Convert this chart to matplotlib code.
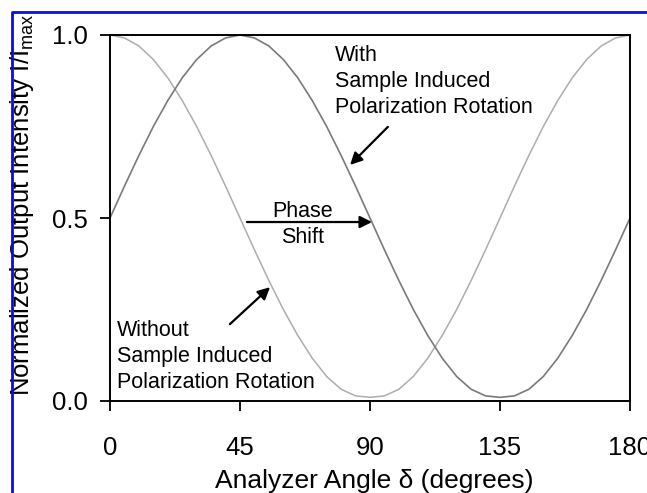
import matplotlib
matplotlib.use("Agg")
import matplotlib.pyplot as plt
from matplotlib.lines import Line2D

plt.rcParams['font.family'] = ['Liberation Sans', 'DejaVu Sans']
plt.rcParams['mathtext.fontset'] = 'custom'
plt.rcParams['mathtext.rm'] = 'Liberation Sans'
plt.rcParams['mathtext.it'] = 'Liberation Sans:italic'

# analyzer angle (degrees), read every 5 degrees
angle = [0, 5, 10, 15, 20, 25, 30, 35, 40, 45, 50, 55, 60, 65, 70, 75, 80, 85,
         90, 95, 100, 105, 110, 115, 120, 125, 130, 135, 140, 145, 150, 155,
         160, 165, 170, 175, 180]

# without sample induced rotation (light curve)
without_rot = [1.000, 0.992, 0.970, 0.933, 0.883, 0.821, 0.750, 0.671, 0.587,
               0.500, 0.413, 0.329, 0.250, 0.179, 0.117, 0.067, 0.032, 0.014,
               0.010, 0.014, 0.032, 0.067, 0.117, 0.179, 0.250, 0.329, 0.413,
               0.500, 0.587, 0.671, 0.750, 0.821, 0.883, 0.933, 0.970, 0.992,
               1.000]

# with sample induced rotation (darker curve)
with_rot = [0.500, 0.587, 0.671, 0.750, 0.821, 0.883, 0.933, 0.970, 0.992,
            1.000, 0.992, 0.970, 0.933, 0.883, 0.821, 0.750, 0.671, 0.587,
            0.500, 0.413, 0.329, 0.250, 0.179, 0.117, 0.067, 0.032, 0.014,
            0.010, 0.014, 0.032, 0.067, 0.117, 0.179, 0.250, 0.329, 0.413,
            0.500]

x_ticks = [0, 45, 90, 135, 180]
x_ticklabels = ['0', '45', '90', '135', '180']
y_ticks = [0.0, 0.5, 1.0]
y_ticklabels = ['0.0', '0.5', '1.0']

fig = plt.figure(figsize=(6.47, 4.93), dpi=100)
ax = fig.add_axes([110 / 647, 1 - 401 / 493, 520 / 647, 366 / 493])

ax.plot(angle, without_rot, color='#adadad', lw=1.1, clip_on=False)
ax.plot(angle, with_rot, color='#7a7a7a', lw=1.2, clip_on=False)

ax.set_xlim(0, 180)
ax.set_ylim(0, 1)

ax.set_xticks(x_ticks)
ax.set_xticklabels(x_ticklabels, fontsize=18.5)
ax.set_yticks(y_ticks)
ax.set_yticklabels(y_ticklabels, fontsize=18.5)
ax.tick_params(axis='x', direction='out', length=7, width=1.3, pad=18)
ax.tick_params(axis='y', direction='out', length=7, width=1.3, pad=9)
for s in ax.spines.values():
    s.set_linewidth(1.4)

ax.set_xlabel('Analyzer Angle δ (degrees)', fontsize=19)
ax.xaxis.set_label_coords(0.508, -0.186)
ax.set_ylabel(r'Normalized Output Intensity I/I$_{\mathrm{max}}$', fontsize=18.5)
ax.yaxis.set_label_coords(-0.142, 0.535)

# annotations (y is the baseline of the last line)
ax.text(77.9, 0.787, 'With\nSample Induced\nPolarization Rotation',
        fontsize=15.5, ha='left', va='baseline', linespacing=1.3)
ax.annotate('', xy=(83.1, 0.645), xytext=(96.2, 0.749),
            arrowprops=dict(arrowstyle='-|>', color='black', lw=1.6,
                            mutation_scale=18, shrinkA=0, shrinkB=0))

ax.text(66.5, 0.432, 'Phase\nShift', fontsize=15.5, ha='center',
        va='baseline', linespacing=1.3)
ax.annotate('', xy=(90.7, 0.489), xytext=(47.4, 0.489),
            arrowprops=dict(arrowstyle='-|>', color='black', lw=1.6,
                            mutation_scale=18, shrinkA=0, shrinkB=0))

ax.text(2.4, 0.036, 'Without\nSample Induced\nPolarization Rotation',
        fontsize=15.5, ha='left', va='baseline', linespacing=1.3)
ax.annotate('', xy=(55.4, 0.311), xytext=(41.5, 0.210),
            arrowprops=dict(arrowstyle='-|>', color='black', lw=1.6,
                            mutation_scale=18, shrinkA=0, shrinkB=0))

# blue frame along the left and top of the image
fig.add_artist(Line2D([11.5 / 647, 11.5 / 647, 1], [0, 1 - 12 / 493, 1 - 12 / 493],
                      transform=fig.transFigure, color='#0a0af0', lw=2))

fig.savefig('out.png', dpi=100)
